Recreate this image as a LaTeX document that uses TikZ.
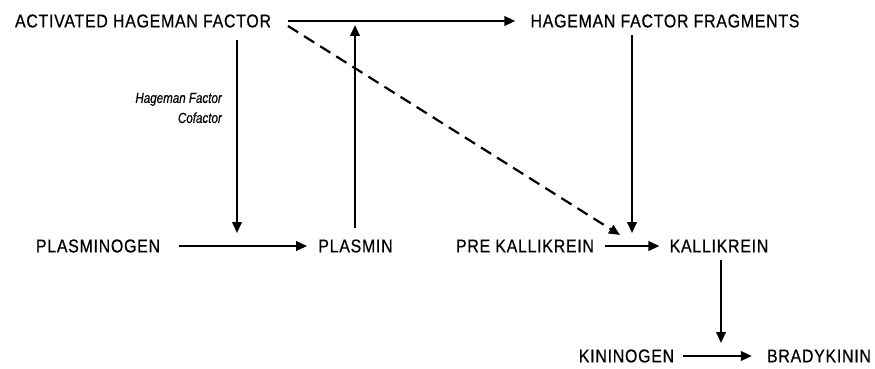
\documentclass[tikz,border=0pt]{standalone}
\usepackage{fontspec}
\setmainfont{Liberation Sans}
\newfontfamily\lblfont{Liberation Sans}[FakeStretch=0.86,LetterSpace=4,FakeBold=0.6]
\newfontfamily\coffont{Liberation Sans}[FakeStretch=0.8,FakeBold=0.4]
\usetikzlibrary{arrows.meta}
\begin{document}
\begin{tikzpicture}[x=1pt,y=-1pt,
  lbl/.style={inner sep=0pt, font=\lblfont\fontsize{18.5}{20}\selectfont},
  cof/.style={inner sep=0pt, align=right, font=\coffont\fontsize{14.5}{20}\selectfont\itshape},
  arr/.style={line width=2.2pt, -{Triangle[length=11pt,width=9.5pt]}},
  dsh/.style={arr, dash pattern=on 12pt off 7pt}]
\useasboundingbox (0,0) rectangle (875,369);
\node[lbl] (ahf) at (143,21) {ACTIVATED HAGEMAN FACTOR};
\node[lbl] (hff) at (665,21) {HAGEMAN FACTOR FRAGMENTS};
\node[lbl] (plg) at (98,246) {PLASMINOGEN};
\node[lbl] (pls) at (355.5,246) {PLASMIN};
\node[lbl] (pk) at (525,246) {PRE KALLIKREIN};
\node[lbl] (kal) at (719,246) {KALLIKREIN};
\node[lbl] (kin) at (626.5,356) {KININOGEN};
\node[lbl] (bk) at (819,356) {BRADYKININ};
\node[cof, anchor=east] (cf) at (222,108) {Hageman Factor\\Cofactor};
% helper coordinates
\coordinate (ahfe) at (288,21);
\coordinate (ahfs) at (237,40);
\coordinate (ahfd) at (237,233);
\coordinate (dst) at (288,26);
\coordinate (dtip) at (620,235);
\coordinate (hffs) at (632,35);
\coordinate (hffd) at (632,233);
\coordinate (upb) at (355,228);
\coordinate (upt) at (355,25);
\coordinate (kals) at (721,260);
\coordinate (kald) at (721,343);
\coordinate (plge) at (179,246);
\coordinate (pke) at (605,246);
\coordinate (kine) at (683,356);
% connectors
\draw[arr] (ahfe) -- ([xshift=-15pt]hff.west);
\draw[dsh] (dst) -- (dtip);
\draw[arr] (ahfs) -- (ahfd);
\draw[arr] (upb) -- (upt);
\draw[arr] (hffs) -- (hffd);
\draw[arr] (plge) -- ([xshift=-11pt]pls.west);
\draw[arr] (pke) -- ([xshift=-10pt]kal.west);
\draw[arr] (kals) -- (kald);
\draw[arr] (kine) -- ([xshift=-15pt]bk.west);
\end{tikzpicture}
\end{document}
